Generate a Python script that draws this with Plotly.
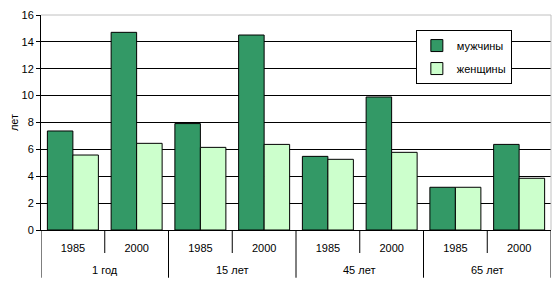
import plotly.graph_objects as go

groups = ["1 год", "1 год", "15 лет", "15 лет", "45 лет", "45 лет", "65 лет", "65 лет"]
years = ["1985", "2000", "1985", "2000", "1985", "2000", "1985", "2000"]
men = [7.37, 14.71, 7.92, 14.51, 5.48, 9.9, 3.18, 6.37]
women = [5.58, 6.45, 6.15, 6.37, 5.26, 5.78, 3.18, 3.85]
y_ticks = [0, 2, 4, 6, 8, 10, 12, 14, 16]

FONT = "Liberation Sans, Arial, sans-serif"
idx = list(range(len(years)))

fig = go.Figure()
fig.add_trace(go.Bar(x=idx, y=men, name="мужчины", legendgroup="m",
                     marker=dict(color="#339966", line=dict(color="black", width=1))))
fig.add_trace(go.Bar(x=idx, y=women, name="женщины", legendgroup="w",
                     marker=dict(color="#CCFFCC", line=dict(color="black", width=1))))

fig.update_layout(
    width=556, height=286,
    margin=dict(l=41, r=5, t=15, b=56),
    paper_bgcolor="white", plot_bgcolor="white",
    font=dict(family=FONT, size=11, color="black"),
    barmode="group", bargap=0.2, bargroupgap=0.0,
    showlegend=True,
    legend=dict(x=0.735, y=0.93, xanchor="left", yanchor="top",
                bgcolor="white", bordercolor="black", borderwidth=1,
                traceorder="grouped", tracegroupgap=4, itemwidth=30,
                font=dict(family=FONT, size=11)),
    xaxis=dict(range=[-0.5, len(years) - 0.5], tickvals=idx, ticktext=years,
               showline=True, linecolor="black", linewidth=1, ticks="",
               showgrid=False, zeroline=False, ticklabelstandoff=8,
               tickfont=dict(family=FONT, size=11)),
    yaxis=dict(range=[0, 16], tickvals=y_ticks, showgrid=True, gridcolor="black", gridwidth=1,
               showline=True, linecolor="black", linewidth=1, ticks="outside", ticklen=4,
               tickcolor="black", zeroline=False,
               title=dict(text="лет", standoff=0, font=dict(family=FONT, size=11))),
)

# category axis decorations: short ticks between years, long dividers between groups
for i in range(len(years) + 1):
    pos = i - 0.5
    is_group_edge = i == 0 or i == len(years) or groups[i] != groups[i - 1]
    fig.add_shape(type="line", xref="x", yref="paper", x0=pos, x1=pos,
                  y0=0, y1=-0.222 if is_group_edge else -0.107,
                  line=dict(color="black", width=1), layer="above")

# group labels
seen = []
for g in groups:
    if g not in seen:
        seen.append(g)
for g in seen:
    members = [i for i, gg in enumerate(groups) if gg == g]
    center = sum(members) / len(members)
    fig.add_annotation(x=center, xref="x", y=-0.186, yref="paper", text=g,
                       showarrow=False, yanchor="middle",
                       font=dict(family=FONT, size=11, color="black"))

fig.add_shape(type="line", xref="paper", yref="paper", x0=0, x1=1, y0=1, y1=1,
              line=dict(color="#C0C0C0", width=1), layer="above")
fig.add_shape(type="line", xref="paper", yref="paper", x0=1, x1=1, y0=0, y1=1,
              line=dict(color="#C0C0C0", width=1), layer="above")

fig.write_html("out.html")
